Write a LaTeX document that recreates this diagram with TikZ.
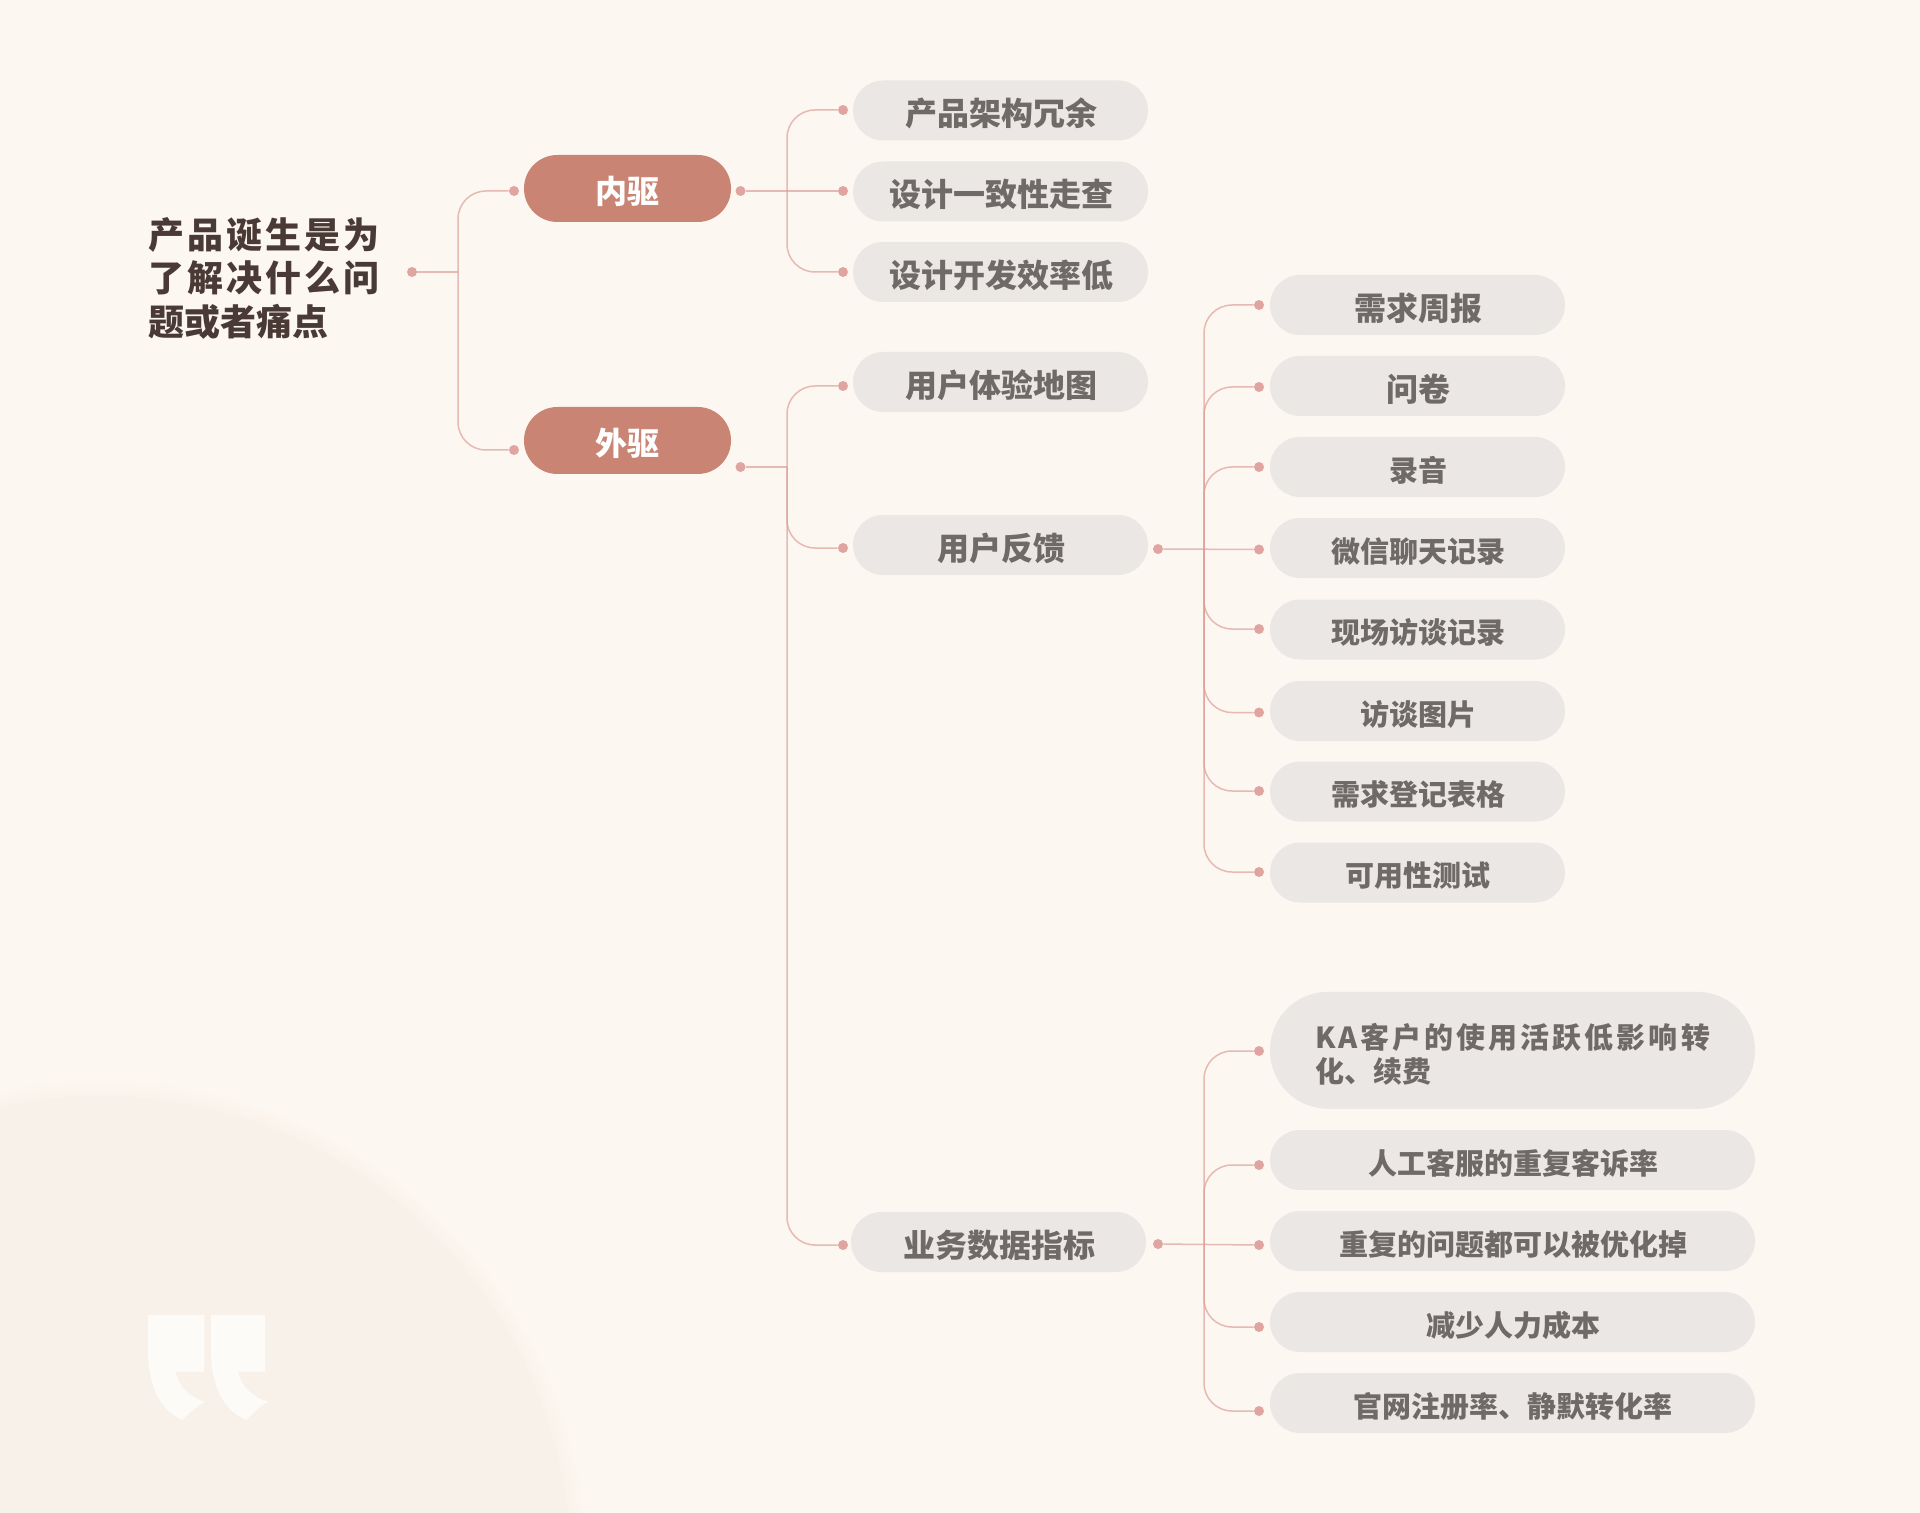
\documentclass[tikz,border=0pt]{standalone}
\usepackage{fontspec}
\setmainfont{Noto Sans CJK SC}[BoldFont={Noto Sans CJK SC Black}]
\definecolor{pagebg}{HTML}{FCF7F0}
\definecolor{blobc}{HTML}{F8F1EA}
\definecolor{quotec}{HTML}{FDFBF8}
\definecolor{pillc}{HTML}{EBE7E5}
\definecolor{maincol}{HTML}{C98473}
\definecolor{roottxt}{HTML}{4A3A36}
\definecolor{subtxt}{HTML}{6F6A68}
\definecolor{linkc}{HTML}{DE9F9A}
\definecolor{dotc}{HTML}{E0A5A0}
\tikzset{
  pillbase/.style={rectangle,fill=pillc,text=subtxt,inner sep=0pt,rounded corners=15pt,minimum height=30pt},
  bigtext/.style={font=\fontsize{16}{19}\selectfont\bfseries,text height=16pt,text depth=0.6pt,execute at begin node=\kern0.8pt},
  smalltext/.style={font=\fontsize{14.5}{17}\selectfont\bfseries,text height=14.5pt,text depth=0.5pt,execute at begin node=\kern0.8pt},
  leveltwo/.style={pillbase,minimum width=147.5pt},
  levelthree/.style={pillbase,minimum width=147.5pt},
  levelfour/.style={pillbase,minimum width=242.5pt,smalltext},
  mainpill/.style={rectangle,fill=maincol,text=white,inner sep=0pt,rounded corners=16.7pt,minimum height=33.5pt,minimum width=103.5pt,
     font=\fontsize{16}{18}\selectfont\bfseries,text height=16pt,text depth=0.6pt},
  linkdot/.style={circle,fill=dotc,inner sep=0pt,minimum size=5pt},
  link/.style={draw=linkc,line width=0.75pt,draw opacity=0.7},
  curvelink/.style={link,rounded corners=14pt}
}
\begin{document}
\begin{tikzpicture}[x=0.5pt,y=-0.5pt]
\fill[pagebg] (0,0) rectangle (1920,1513);
\useasboundingbox (0,0) rectangle (1920,1513);
\begin{scope}
\clip (0,0) rectangle (1920,1513);
\fill[pagebg!85!blobc] (100,1567) circle (486);
\fill[pagebg!70!blobc] (100,1567) circle (483);
\fill[pagebg!55!blobc] (100,1567) circle (480);
\fill[pagebg!40!blobc] (100,1567) circle (477);
\fill[pagebg!25!blobc] (100,1567) circle (474);
\fill[pagebg!10!blobc] (100,1567) circle (471);
\fill[blobc] (100,1567) circle (468);
\end{scope}
\fill[quotec] (148,1315) -- (204.4,1315) -- (204.4,1371.7) -- (175.5,1371.7)
  .. controls (179,1388) and (189,1396) .. (205,1402)
  .. controls (197,1406) and (190,1412) .. (182,1420)
  .. controls (160,1410) and (148,1385) .. (148,1350) -- cycle;
\fill[quotec] (211,1315) -- (265,1315) -- (265,1371.7) -- (238,1371.7)
  .. controls (242,1388) and (252,1396) .. (268,1402)
  .. controls (260,1406) and (254,1412) .. (246,1420)
  .. controls (223,1410) and (211,1385) .. (211,1350) -- cycle;

% root
\node[anchor=west,inner sep=0pt,text=roottxt,align=left,font=\fontsize{18}{21.75}\selectfont\bfseries] (root) at (148,278.2)
 {\makebox[115.5pt][s]{产\hfil 品\hfil 诞\hfil 生\hfil 是\hfil 为}\\
  \makebox[115.5pt][s]{了\hfil 解\hfil 决\hfil 什\hfil 么\hfil 问}\\
  题或者痛点};
% main
\node[mainpill] (inner) at (627.5,188.5) {内驱};
\node[mainpill] (outer) at (627.5,440.5) {外驱};
% level two
\node[leveltwo,bigtext] (a1) at (1000.5,110.5) {产品架构冗余};
\node[leveltwo,bigtext] (a2) at (1000.5,191.5) {设计一致性走查};
\node[leveltwo,bigtext] (a3) at (1000.5,272) {设计开发效率低};
\node[leveltwo,bigtext] (b1) at (1000.5,382) {用户体验地图};
\node[leveltwo,bigtext] (b2) at (1000.5,545) {用户反馈};
\node[leveltwo,bigtext] (b3) at (998.5,1242) {业务数据指标};
% level three
\node[levelthree,bigtext] (c1) at (1417.5,305) {需求周报};
\node[levelthree,bigtext] (c2) at (1417.5,386) {问卷};
\node[levelthree,smalltext] (c3) at (1417.5,467) {录音};
\node[levelthree,smalltext] (c4) at (1417.5,548) {微信聊天记录};
\node[levelthree,smalltext] (c5) at (1417.5,629.5) {现场访谈记录};
\node[levelthree,smalltext] (c6) at (1417.5,711) {访谈图片};
\node[levelthree,smalltext] (c7) at (1417.5,791.5) {需求登记表格};
\node[levelthree,smalltext] (c8) at (1417.5,872.5) {可用性测试};
% level four
\node[pillbase,minimum width=242.5pt,minimum height=58.5pt,rounded corners=29pt,text width=197.5pt,align=left,
      font=\fontsize{14.5}{17}\selectfont\bfseries] (d1) at (1512.5,1050.3)
 {\rule{0pt}{16.7pt}\makebox[197.5pt][s]{K\hfil A\hfil 客\hfil 户\hfil 的\hfil 使\hfil 用\hfil 活\hfil 跃\hfil 低\hfil 影\hfil 响\hfil 转}\\
  化、续费};
\node[levelfour] (d2) at (1512.5,1160) {人工客服的重复客诉率};
\node[levelfour] (d3) at (1512.5,1241) {重复的问题都可以被优化掉};
\node[levelfour] (d4) at (1512.5,1322) {减少人力成本};
\node[levelfour] (d5) at (1512.5,1403) {官网注册率、静默转化率};

% dots
\node[linkdot] (rootdot) at (412,272) {};
\node[linkdot] (inneri) at (514,191) {};
\node[linkdot] (outeri) at (514,450) {};
\node[linkdot] (innero) at (740.5,191) {};
\node[linkdot] (outero) at (740.5,467) {};
\node[linkdot] (a1i) at (843,110) {};
\node[linkdot] (a2i) at (843,191) {};
\node[linkdot] (a3i) at (843,272) {};
\node[linkdot] (b1i) at (843,386) {};
\node[linkdot] (b2i) at (843,548) {};
\node[linkdot] (b3i) at (843,1245) {};
\node[linkdot] (b2o) at (1158,549) {};
\node[linkdot] (b3o) at (1158,1244) {};
\node[linkdot] (c1i) at (1259,305) {};
\node[linkdot] (c2i) at (1259,387) {};
\node[linkdot] (c3i) at (1259,467) {};
\node[linkdot] (c4i) at (1259,549.5) {};
\node[linkdot] (c5i) at (1259,629) {};
\node[linkdot] (c6i) at (1259,712.5) {};
\node[linkdot] (c7i) at (1259,791) {};
\node[linkdot] (c8i) at (1259,872) {};
\node[linkdot] (d1i) at (1259,1051) {};
\node[linkdot] (d2i) at (1259,1165) {};
\node[linkdot] (d3i) at (1259,1245) {};
\node[linkdot] (d4i) at (1259,1327) {};
\node[linkdot] (d5i) at (1259,1411) {};

% junctions
\coordinate (jroot) at (458,272);
\coordinate (jinner) at (787,191);
\coordinate (jouter) at (787,467);
\coordinate (jfb) at (1204,549);
\coordinate (jbiz) at (1204,1244);

% connectors
\draw[link] (rootdot) -- (jroot);
\draw[curvelink] (jroot) |- (inneri);
\draw[curvelink] (jroot) |- (outeri);
\draw[link] (innero) -- (a2i);
\draw[curvelink] (jinner) |- (a1i);
\draw[curvelink] (jinner) |- (a3i);
\draw[link] (outero) -- (jouter);
\draw[curvelink] (jouter) |- (b1i);
\draw[curvelink] (jouter) |- (b2i);
\draw[curvelink] (jouter) |- (b3i);
\draw[link] (b2o) -- (c4i);
\draw[curvelink] (jfb) |- (c1i);
\draw[curvelink] (jfb) |- (c2i);
\draw[curvelink] (jfb) |- (c3i);
\draw[curvelink] (jfb) |- (c5i);
\draw[curvelink] (jfb) |- (c6i);
\draw[curvelink] (jfb) |- (c7i);
\draw[curvelink] (jfb) |- (c8i);
\draw[link] (b3o) -- (d3i);
\draw[curvelink] (jbiz) |- (d1i);
\draw[curvelink] (jbiz) |- (d2i);
\draw[curvelink] (jbiz) |- (d4i);
\draw[curvelink] (jbiz) |- (d5i);
\end{tikzpicture}
\end{document}
